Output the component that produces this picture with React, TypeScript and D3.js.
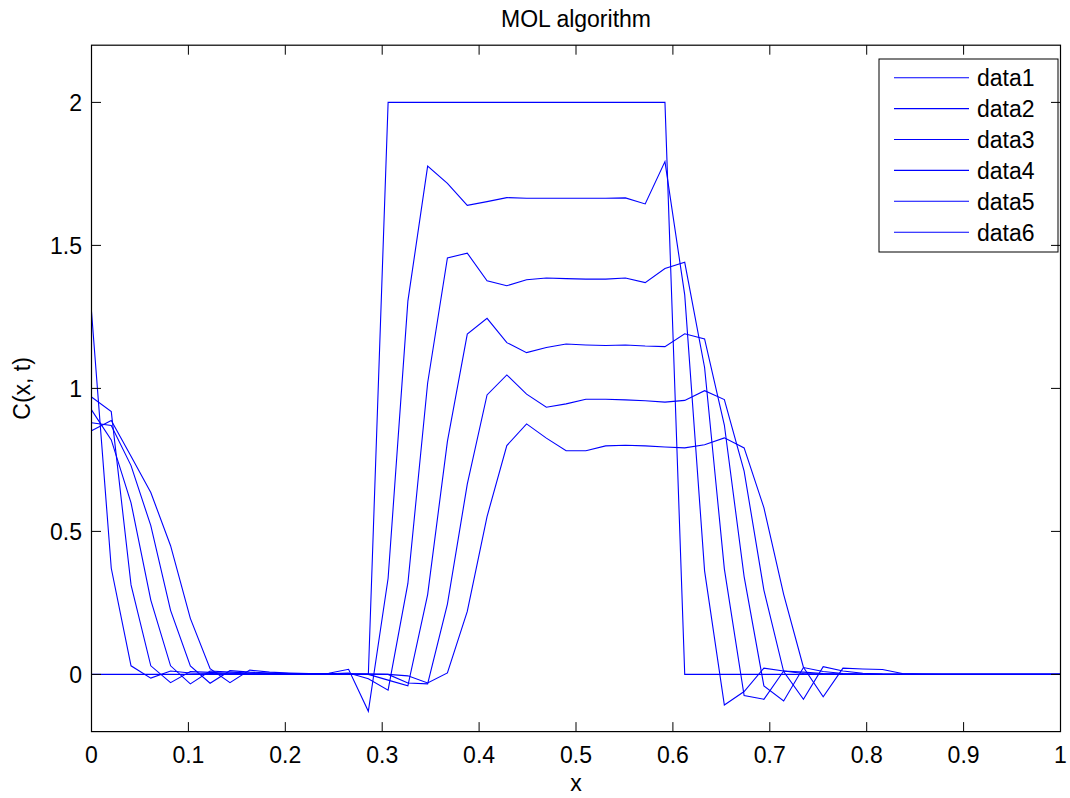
import React from "react";
import * as d3 from "d3";

const xGrid = [
  0, 0.0204, 0.0408, 0.0612, 0.0816, 0.102, 0.1224, 0.1429, 0.1633, 0.1837,
  0.2041, 0.2245, 0.2449, 0.2653, 0.2857, 0.3061, 0.3265, 0.3469, 0.3673, 0.3878,
  0.4082, 0.4286, 0.449, 0.4694, 0.4898, 0.5102, 0.5306, 0.551, 0.5714, 0.5918,
  0.6122, 0.6327, 0.6531, 0.6735, 0.6939, 0.7143, 0.7347, 0.7551, 0.7755, 0.7959,
  0.8163, 0.8367, 0.8571, 0.8776, 0.898, 0.9184, 0.9388, 0.9592, 0.9796, 1,
];

const data1 = [
  0, 0, 0, 0, 0, 0, 0, 0, 0, 0,
  0, 0, 0, 0, 0, 2, 2, 2, 2, 2,
  2, 2, 2, 2, 2, 2, 2, 2, 2, 2,
  0, 0, 0, 0, 0, 0, 0, 0, 0, 0,
  0, 0, 0, 0, 0, 0, 0, 0, 0, 0,
];

const data2 = [
  1.269, 0.371, 0.03, -0.013, 0.012, 0.005, 0.003, 0.002, 0.001, 0.0,
  0.0, 0.001, 0.004, 0.018, -0.129, 0.336, 1.305, 1.777, 1.717, 1.64,
  1.653, 1.667, 1.665, 1.665, 1.665, 1.665, 1.665, 1.666, 1.645, 1.793,
  1.327, 0.362, -0.107, -0.06, 0.022, 0.012, 0.003, 0.001, 0, 0,
  0, 0, 0, 0, 0, 0, 0, 0, 0, 0,
];

const data3 = [
  0.97, 0.919, 0.313, 0.03, -0.029, 0.01, 0.007, 0.004, 0.002, 0.001,
  0.001, 0.001, 0.002, 0.005, -0.015, -0.055, 0.318, 1.019, 1.456, 1.473,
  1.376, 1.359, 1.38, 1.386, 1.384, 1.382, 1.382, 1.386, 1.37, 1.419,
  1.441, 1.073, 0.369, -0.074, -0.087, 0.012, 0.008, 0.003, 0.001, 0,
  0, 0, 0, 0, 0, 0, 0, 0, 0, 0,
];

const data4 = [
  0.925, 0.82, 0.6, 0.26, 0.03, -0.033, 0.012, 0.008, 0.005, 0.003,
  0.002, 0.001, 0.001, 0.002, 0.0, -0.02, -0.04, 0.279, 0.815, 1.19,
  1.245, 1.16, 1.125, 1.143, 1.155, 1.152, 1.15, 1.152, 1.148, 1.146,
  1.191, 1.173, 0.872, 0.342, -0.04, -0.093, 0.024, 0.01, 0.003, 0.001,
  0, 0, 0, 0, 0, 0, 0, 0, 0, 0,
];

const data5 = [
  0.88, 0.87, 0.73, 0.52, 0.224, 0.03, -0.031, 0.013, 0.008, 0.005,
  0.003, 0.002, 0.001, 0.001, 0.001, 0.0, -0.03, -0.033, 0.246, 0.665,
  0.977, 1.047, 0.98, 0.934, 0.946, 0.962, 0.962, 0.96, 0.957, 0.952,
  0.958, 0.992, 0.961, 0.711, 0.295, 0.01, -0.087, 0.027, 0.012, 0.004,
  0.001, 0, 0, 0, 0, 0, 0, 0, 0, 0,
];

const data6 = [
  0.852, 0.888, 0.763, 0.636, 0.45, 0.196, 0.02, -0.029, 0.015, 0.008,
  0.005, 0.003, 0.002, 0.001, 0.001, 0.0, -0.005, -0.03, 0.005, 0.22,
  0.552, 0.8, 0.876, 0.826, 0.782, 0.782, 0.799, 0.801, 0.799, 0.795,
  0.792, 0.803, 0.827, 0.792, 0.583, 0.28, 0.025, -0.078, 0.022, 0.019,
  0.017, 0.003, 0.001, 0, 0, 0, 0, 0, 0, 0,
];

const seriesNames = ["data1", "data2", "data3", "data4", "data5", "data6"];
const seriesValues = [data1, data2, data3, data4, data5, data6];
const xTicks = [0, 0.1, 0.2, 0.3, 0.4, 0.5, 0.6, 0.7, 0.8, 0.9, 1];
const yTicks = [0, 0.5, 1, 1.5, 2];
const titleText = "MOL algorithm";
const xLabel = "x";
const yLabel = "C(x, t)";

const W = 1070;
const H = 798;
const L = 91.5;
const R = 1060.5;
const T = 45.2;
const B = 731.6;
const FONT = "'Liberation Sans', Arial, Helvetica, sans-serif";
const FS = 23;
const TICK = 9.5;
const BLUE = "#0000ff";

export default function App() {
  const x = d3.scaleLinear().domain([0, 1]).range([L, R]);
  const y = d3.scaleLinear().domain([-0.2, 2.2]).range([B, T]);
  const line = d3
    .line<number>()
    .x((_, i) => x(xGrid[i]))
    .y((v) => y(v));

  const legX0 = 879;
  const legX1 = 1058;
  const legY0 = 59;
  const legY1 = 252;
  const rowY = (i: number) => 77.7 + i * 30.9;

  return (
    <svg
      width={W}
      height={H}
      style={{ position: "absolute", left: 0, top: 0, background: "#fff" }}
      fontFamily={FONT}
    >
      <rect x={0} y={0} width={W} height={H} fill="#fff" />
      <rect x={L} y={T} width={R - L} height={B - T} fill="#fff" />

      <g>
        {seriesValues.map((vals, k) => (
          <path
            key={seriesNames[k]}
            d={line(vals) || ""}
            fill="none"
            stroke={BLUE}
            strokeWidth={1.1}
            strokeLinejoin="miter"
          />
        ))}
      </g>

      {/* legend */}
      <g>
        <rect
          x={legX0}
          y={legY0}
          width={legX1 - legX0}
          height={legY1 - legY0}
          fill="#fff"
          stroke="#000"
          strokeWidth={1}
        />
        {seriesNames.map((name, i) => (
          <g key={name}>
            <line
              x1={894}
              x2={969}
              y1={rowY(i)}
              y2={rowY(i)}
              stroke={BLUE}
              strokeWidth={1.1}
            />
            <text x={977} y={rowY(i) + 8.3} fontSize={FS} fill="#000">
              {name}
            </text>
          </g>
        ))}
      </g>

      {/* axes box */}
      <rect
        x={L}
        y={T}
        width={R - L}
        height={B - T}
        fill="none"
        stroke="#000"
        strokeWidth={1.2}
      />
      {xTicks.map((t) => (
        <g key={"xt" + t}>
          <line x1={x(t)} x2={x(t)} y1={B} y2={B - TICK} stroke="#000" strokeWidth={1} />
          <line x1={x(t)} x2={x(t)} y1={T} y2={T + TICK} stroke="#000" strokeWidth={1} />
          <text x={x(t)} y={763} fontSize={FS} textAnchor="middle" fill="#000">
            {String(t)}
          </text>
        </g>
      ))}
      {yTicks.map((t) => (
        <g key={"yt" + t}>
          <line x1={L} x2={L + TICK} y1={y(t)} y2={y(t)} stroke="#000" strokeWidth={1} />
          <line x1={R} x2={R - TICK} y1={y(t)} y2={y(t)} stroke="#000" strokeWidth={1} />
          <text x={82} y={y(t) + 8.2} fontSize={FS} textAnchor="end" fill="#000">
            {String(t)}
          </text>
        </g>
      ))}

      <text x={(L + R) / 2} y={27} fontSize={FS} textAnchor="middle" fill="#000">
        {titleText}
      </text>
      <text x={(L + R) / 2} y={791} fontSize={FS} textAnchor="middle" fill="#000">
        {xLabel}
      </text>
      <text
        transform={`translate(30,${(T + B) / 2}) rotate(-90)`}
        fontSize={FS}
        textAnchor="middle"
        fill="#000"
      >
        {yLabel}
      </text>
    </svg>
  );
}
